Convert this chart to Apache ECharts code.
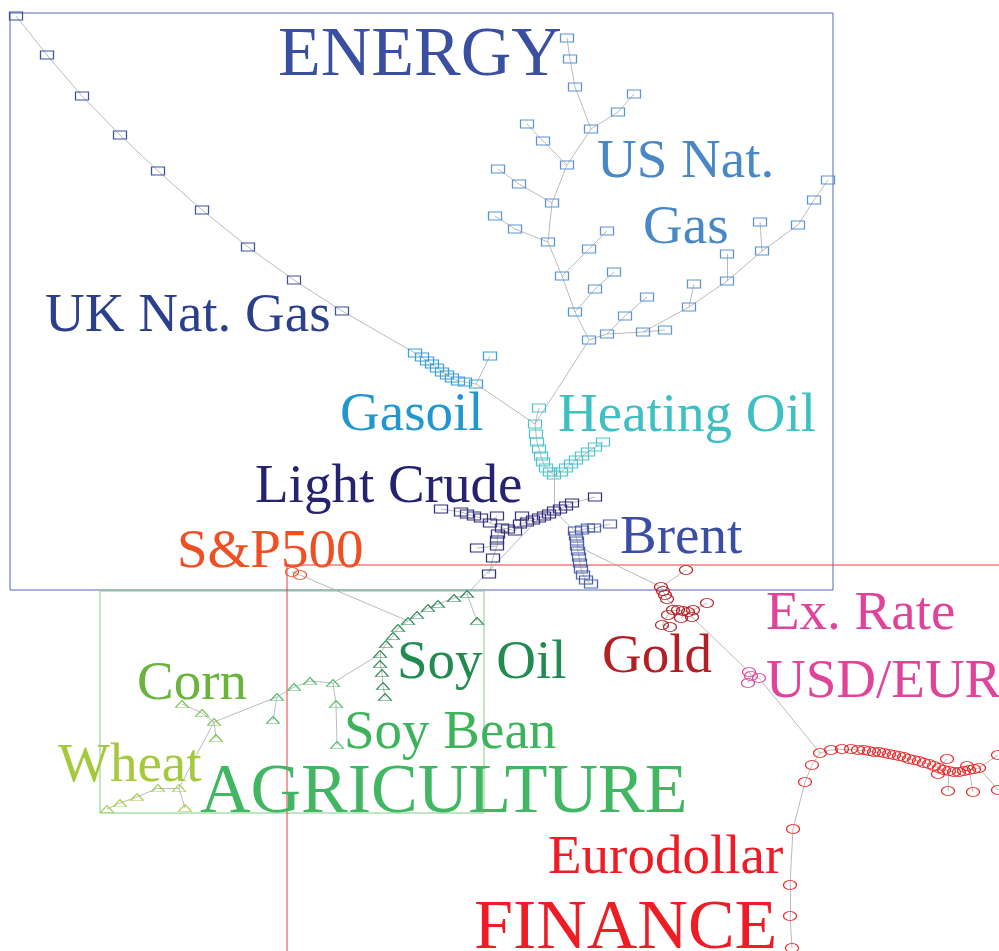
<!DOCTYPE html>
<html>
<head>
<meta charset="utf-8">
<script src="https://cdn.jsdelivr.net/npm/echarts@6/dist/echarts.min.js"></script>
<style>
html, body { margin: 0; padding: 0; background: #fff; }
#main { width: 999px; height: 951px; }
</style>
</head>
<body>
<div id="main"></div>
<script>
// node positions, x / y in the 999 x 951 frame
const ukGas = [[16,16],[47,55],[82,96],[120,135],[158,171],[202,210],[248,247],[294,280],[342,311]];
const usGas = [
  [567,38],[570,59],[575,87],[591,129],[618,112],[634,94],[527,124],[543,141],[567,165],
  [498,169],[519,184],[552,203],[495,216],[515,229],[548,242],[589,249],[607,231],[562,276],
  [595,289],[614,272],[575,312],[625,316],[647,297],[589,340],[607,334],[643,332],[665,330],
  [689,307],[694,284],[727,281],[727,254],[762,251],[760,222],[798,225],[814,200],[828,180]
];
const gasoil = [[415,353],[422,357],[427,361],[432,364],[437,368],[442,372],[447,375],[452,378],[458,381],[465,382],[476,384],[490,356]];
const heating = [[539,408],[535,424],[536,434],[537,442],[539,449],[541,456],[543,462],[546,468],[550,472],[554,475],
  [561,472],[566,468],[571,464],[576,460],[582,456],[588,452],[595,447],[603,442]];
const crude = [[441,509],[461,512],[467,514],[474,516],[481,518],[490,523],[497,516],[502,528],[508,529],[515,531],
  [522,516],[520,524],[527,522],[533,520],[539,518],[544,516],[549,514],[554,511],[560,509],[566,506],[572,503],[595,497],
  [498,534],[497,540],[497,546],[477,548],[493,558],[489,574]];
const brent = [[575,531],[576,536],[577,541],[577,546],[578,551],[579,557],[580,563],[581,569],[583,575],[586,580],[591,584],
  [582,530],[588,528],[594,528],[610,524]];
const sp500 = [[292,572],[300,575]];
const gold = [[686,570],[661,587],[663,591],[665,595],[667,599],[673,610],[678,610],[683,611],[688,612],[693,610],[707,603],
  [668,615],[681,618],[692,617],[662,625],[670,627]];
const exRate = [[749,672],[751,676],[759,678],[748,683]];
const euro = [[820,753],[831,750],[842,749],[851,749],[858,750],[864,750],[869,751],[874,752],[879,752],[884,753],
  [889,754],[894,755],[899,756],[904,757],[909,759],[914,760],[919,761],[924,763],[929,764],[934,766],[939,768],
  [944,770],[949,771],[954,772],[959,772],[964,771],[969,770],[974,769],[979,768],
  [947,759],[938,774],[948,791],[967,766],[973,792],[998,755],[998,790],
  [812,765],[805,782],[793,829],[790,885],[790,916],[792,948]];
const soyOil = [[467,594],[454,598],[438,604],[428,608],[417,615],[408,621],[398,628],[393,636],[386,644],[380,654],
  [380,664],[382,673],[383,686],[385,697],[477,621]];
const soyBean = [[333,683],[310,681],[294,687],[277,697],[273,720],[336,704],[337,745]];
const corn = [[214,722],[202,713],[182,704],[216,738]];
const wheat = [[179,788],[158,788],[137,797],[120,803],[107,809],[185,808]];

// edges inside each group (local indices)
const chain = list => list.slice(1).map((v, i) => [list[i], v]);
const ukGasLinks = chain([0,1,2,3,4,5,6,7,8]);
const usGasLinks = [[0,1],[1,2],[2,3],[3,4],[4,5],[3,8],[6,7],[7,8],[8,11],[9,10],[10,11],[11,14],[12,13],[13,14],
  [14,17],[17,15],[15,16],[17,20],[20,18],[18,19],[20,23],[23,24],[24,21],[21,22],[24,25],[25,26],[25,27],[27,28],
  [27,29],[29,30],[29,31],[31,32],[31,33],[33,34],[34,35]];
const gasoilLinks = chain([0,1,2,3,4,5,6,7,8,9,10]).concat([[10,11]]);
const heatingLinks = [[0,1]].concat(chain([1,2,3,4,5,6,7,8,9,10,11,12,13,14,15,16,17]));
const crudeLinks = chain([0,1,2,3,4,5,7,8,9,11,12,13,14,15,16,17,18,19,20,21])
  .concat([[5,6],[11,10],[7,22],[22,23],[23,24],[24,26],[26,27],[24,25]]);
const brentLinks = chain([0,1,2,3,4,5,6,7,8,9,10]).concat(chain([0,11,12,13,14]));
const sp500Links = [[0,1]];
const goldLinks = [[0,1],[1,2],[2,3],[3,4],[4,6],[6,5],[5,11],[11,14],[14,15],[6,7],[7,8],[8,9],[9,10],[8,12],[9,13]];
const exRateLinks = [[0,1],[1,2],[1,3]];
const euroLinks = chain([0,1,2,3,4,5,6,7,8,9,10,11,12,13,14,15,16,17,18,19,20,21,22,23,24,25,26,27,28])
  .concat([[20,29],[20,30],[22,31],[25,32],[26,33],[28,34],[28,35]])
  .concat(chain([0,36,37,38,39,40,41]));
const soyOilLinks = chain([0,1,2,3,4,5,6,7,8,9,10,11,12,13]).concat([[0,14]]);
const soyBeanLinks = [[0,1],[1,2],[2,3],[3,4],[0,5],[5,6]];
const cornLinks = [[0,1],[1,2],[0,3]];
const wheatLinks = [[0,1],[1,2],[2,3],[3,4],[0,5]];

// edges between groups
const crossLinks = [
  ['ukGas',8,'gasoil',0], ['gasoil',10,'heating',1], ['usGas',23,'heating',1],
  ['heating',9,'crude',17], ['crude',17,'brent',0], ['crude',14,'soyOil',0],
  ['brent',3,'gold',1], ['sp500',1,'soyOil',5], ['soyOil',9,'soyBean',0],
  ['soyBean',3,'corn',0], ['corn',0,'wheat',0], ['gold',13,'exRate',0], ['exRate',2,'euro',0]
];

const groups = [
  { key: 'ukGas', nodes: ukGas, links: ukGasLinks, symbol: 'rect', color: '#3d52a3' },
  { key: 'usGas', nodes: usGas, links: usGasLinks, symbol: 'rect', color: '#5b93d3' },
  { key: 'gasoil', nodes: gasoil, links: gasoilLinks, symbol: 'rect', color: '#3aa0d8' },
  { key: 'heating', nodes: heating, links: heatingLinks, symbol: 'rect', color: '#4ec6cc' },
  { key: 'crude', nodes: crude, links: crudeLinks, symbol: 'rect', color: '#33307f' },
  { key: 'brent', nodes: brent, links: brentLinks, symbol: 'rect', color: '#4a5fae' },
  { key: 'sp500', nodes: sp500, links: sp500Links, symbol: 'circle', color: '#f0562a' },
  { key: 'gold', nodes: gold, links: goldLinks, symbol: 'circle', color: '#b8232b' },
  { key: 'exRate', nodes: exRate, links: exRateLinks, symbol: 'circle', color: '#e0479c' },
  { key: 'euro', nodes: euro, links: euroLinks, symbol: 'circle', color: '#ee2a2a' },
  { key: 'soyOil', nodes: soyOil, links: soyOilLinks, symbol: 'triangle', color: '#2a8a55' },
  { key: 'soyBean', nodes: soyBean, links: soyBeanLinks, symbol: 'triangle', color: '#4dbb6c' },
  { key: 'corn', nodes: corn, links: cornLinks, symbol: 'triangle', color: '#76c655' },
  { key: 'wheat', nodes: wheat, links: wheatLinks, symbol: 'triangle', color: '#a6cd45' }
];

const symbolSizes = { rect: [13, 8], circle: [13, 9], triangle: [13, 7] };

const offsets = {};
const nodeData = [];
const linkData = [];
groups.forEach(g => {
  offsets[g.key] = nodeData.length;
  g.nodes.forEach(p => {
    nodeData.push({
      value: p,
      symbol: g.symbol,
      symbolSize: symbolSizes[g.symbol],
      itemStyle: { color: 'rgba(255,255,255,0)', borderColor: g.color, borderWidth: 1 }
    });
  });
});
groups.forEach(g => {
  g.links.forEach(l => linkData.push({ source: offsets[g.key] + l[0], target: offsets[g.key] + l[1] }));
});
crossLinks.forEach(c => {
  linkData.push({ source: offsets[c[0]] + c[1], target: offsets[c[2]] + c[3] });
});

// labels: text, left x, baseline y, font size, colour
const labels = [
  ['ENERGY', 278, 75, 70, '#3a4fa0'],
  ['UK Nat. Gas', 45, 331, 55, '#2c3f8c'],
  ['US Nat.', 597, 177, 55, '#4a87c7'],
  ['Gas', 643, 243, 55, '#4a87c7'],
  ['Gasoil', 340, 430, 55, '#2196cf'],
  ['Heating Oil', 558, 431, 55, '#3dbfc4'],
  ['Light Crude', 255, 502, 55, '#25236f'],
  ['Brent', 620, 553, 55, '#3a4fa3'],
  ['S&P500', 177, 567, 55, '#f04e23'],
  ['Gold', 602, 672, 55, '#b31f24'],
  ['Ex. Rate', 766, 629, 55, '#e0449a'],
  ['USD/EUR', 766, 697, 55, '#e0449a'],
  ['Corn', 137, 699, 55, '#6ab43e'],
  ['Wheat', 58, 781, 55, '#a4c93a'],
  ['Soy Oil', 397, 678, 55, '#228b50'],
  ['Soy Bean', 344, 748, 55, '#3db35b'],
  ['AGRICULTURE', 200, 812, 70, '#42b763'],
  ['Eurodollar', 548, 873, 55, '#ee1c25'],
  ['FINANCE', 474, 948, 70, '#ee1c25']
];

const graphic = [
  { type: 'rect', shape: { x: 10, y: 13, width: 823, height: 577 },
    style: { fill: 'none', stroke: '#5466b2', lineWidth: 1 }, z: 1 },
  { type: 'rect', shape: { x: 100, y: 591, width: 384, height: 222 },
    style: { fill: 'none', stroke: '#7dcf86', lineWidth: 1 }, z: 1 },
  { type: 'polyline', shape: { points: [[287, 951], [287, 565], [999, 565]] },
    style: { fill: 'none', stroke: '#ee3b3b', lineWidth: 1 }, z: 1 }
].concat(labels.map(l => ({
  type: 'text',
  x: l[1],
  y: l[2] - 0.3375 * l[3],
  z: 10,
  style: {
    text: l[0],
    font: l[3] + 'px "Liberation Serif", "Times New Roman", serif',
    fill: l[4],
    textAlign: 'left',
    textVerticalAlign: 'middle'
  }
})));

const chart = echarts.init(document.getElementById('main'), null, { renderer: 'svg' });
chart.setOption({
  animation: false,
  backgroundColor: '#fff',
  grid: { left: 0, right: 0, top: 0, bottom: 0 },
  xAxis: { type: 'value', min: 0, max: 999, show: false },
  yAxis: { type: 'value', min: 0, max: 951, inverse: true, show: false },
  graphic: graphic,
  series: [
    {
      type: 'graph',
      layout: 'none',
      coordinateSystem: 'cartesian2d',
      silent: true,
      z: 5,
      label: { show: false },
      lineStyle: { color: '#a8a8a8', width: 0.8, opacity: 1, curveness: 0 },
      emphasis: { disabled: true },
      data: nodeData,
      links: linkData
    }
  ]
});
</script>
</body>
</html>
